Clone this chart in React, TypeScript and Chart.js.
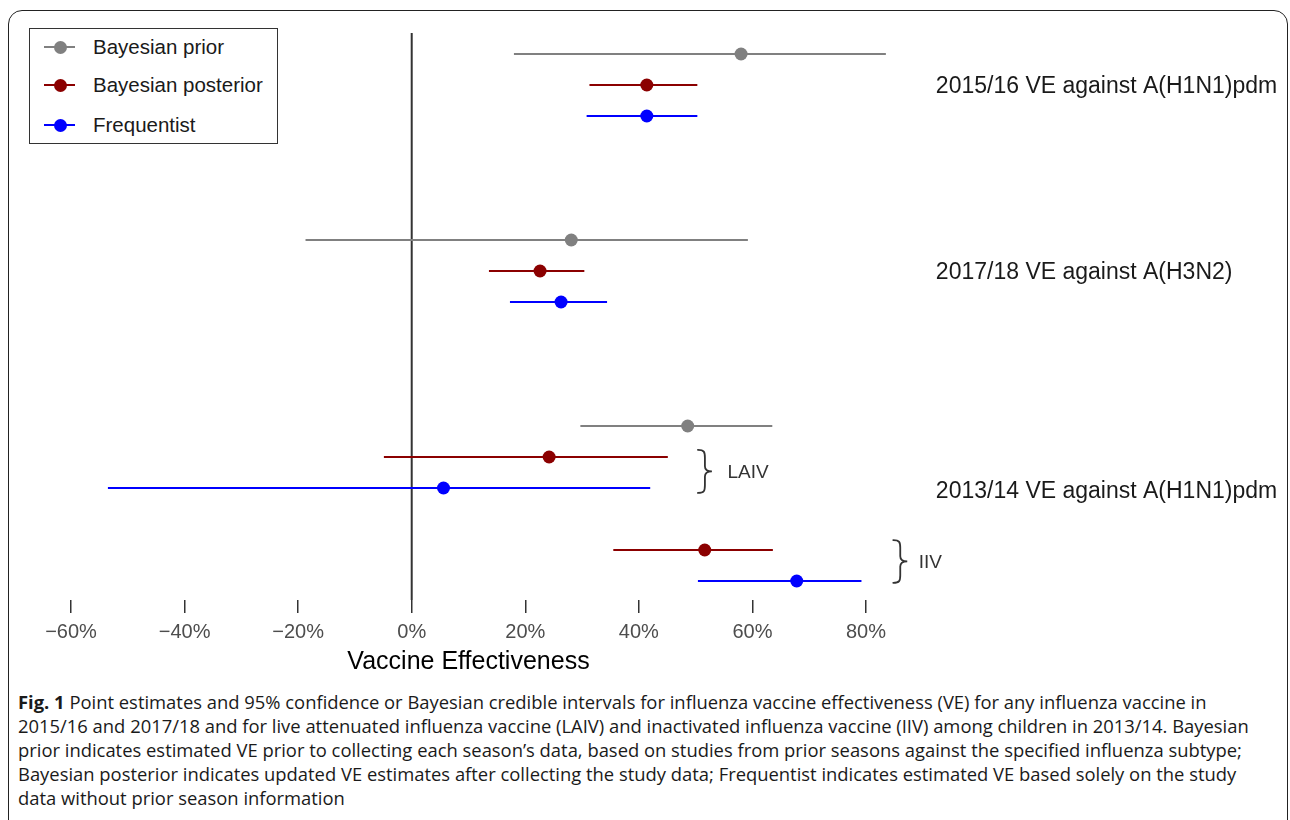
import React, { useEffect, useRef } from 'react';
import { Chart, registerables } from 'chart.js';

Chart.register(...registerables);

// ---- Data (VE in %) ----
const priorRows = [0, 6, 12];
const priorEst = [58.0, 28.1, 48.6];
const priorLow = [18.0, -18.7, 29.7];
const priorHigh = [83.5, 59.2, 63.5];

const posteriorRows = [1, 7, 13, 16];
const posteriorEst = [41.4, 22.6, 24.2, 51.6];
const posteriorLow = [31.3, 13.6, -4.9, 35.5];
const posteriorHigh = [50.3, 30.4, 45.1, 63.6];

const freqRows = [2, 8, 14, 17];
const freqEst = [41.4, 26.3, 5.6, 67.8];
const freqLow = [30.8, 17.3, -53.5, 50.4];
const freqHigh = [50.3, 34.4, 42.0, 79.2];

const seriesNames = ['Bayesian prior', 'Bayesian posterior', 'Frequentist'];

const xTickValues = [-60, -40, -20, 0, 20, 40, 60, 80];
const xTickLabels = ['\u221260%', '\u221240%', '\u221220%', '0%', '20%', '40%', '60%', '80%'];

const groupLabels = ['2015/16 VE against A(H1N1)pdm', '2017/18 VE against A(H3N2)', '2013/14 VE against A(H1N1)pdm'];
const groupLabelRows = [1.06, 7.06, 14.13];

const subLabels = ['LAIV', 'IIV'];
const subBraceFrom = [12.77, 15.68];
const subBraceTo = [14.16, 17.06];
const subLabelRows = [13.52, 16.42];

// ---- Layout / style (not data) ----
const Y_MIN = -0.677;
const Y_MAX = 17.613;
const GROUP_LABEL_X = 92.3;
const BRACE_X = [50.4, 84.8];
const SUB_LABEL_X = [55.6, 89.3];
const COLORS = ['#808080', '#8b0000', '#0000ff'];
const SANS = '"Liberation Sans", Arial, Helvetica, sans-serif';

function drawBrace(ctx: CanvasRenderingContext2D, x: number, y1: number, y2: number, w: number) {
  const ym = (y1 + y2) / 2;
  const h = y2 - y1;
  const xm = x + w * 0.5;
  ctx.beginPath();
  ctx.moveTo(x, y1);
  ctx.bezierCurveTo(x + w * 0.45, y1, xm, y1 + h * 0.05, xm, y1 + h * 0.18);
  ctx.lineTo(xm, ym - h * 0.12);
  ctx.bezierCurveTo(xm, ym - h * 0.03, x + w * 0.7, ym, x + w, ym);
  ctx.bezierCurveTo(x + w * 0.7, ym, xm, ym + h * 0.03, xm, ym + h * 0.12);
  ctx.lineTo(xm, y2 - h * 0.18);
  ctx.bezierCurveTo(xm, y2 - h * 0.05, x + w * 0.45, y2, x, y2);
  ctx.stroke();
}

const annotationPlugin = {
  id: 'groupAnnotations',
  afterDatasetsDraw(chart: any) {
    const { ctx, scales } = chart;
    const x = scales.x;
    const y = scales.y;
    ctx.save();
    ctx.font = `23px ${SANS}`;
    ctx.fillStyle = '#1a1a1a';
    ctx.textAlign = 'left';
    ctx.textBaseline = 'middle';
    groupLabels.forEach((t, i) => {
      ctx.fillText(t, x.getPixelForValue(GROUP_LABEL_X), y.getPixelForValue(groupLabelRows[i]));
    });
    ctx.strokeStyle = '#333333';
    ctx.lineWidth = 1.8;
    ctx.lineCap = 'round';
    subLabels.forEach((t, i) => {
      const bx = x.getPixelForValue(BRACE_X[i]);
      drawBrace(ctx, bx, y.getPixelForValue(subBraceFrom[i]), y.getPixelForValue(subBraceTo[i]), 14);
    });
    ctx.font = `19px ${SANS}`;
    ctx.fillStyle = '#333333';
    subLabels.forEach((t, i) => {
      ctx.fillText(t, x.getPixelForValue(SUB_LABEL_X[i]), y.getPixelForValue(subLabelRows[i]));
    });
    ctx.restore();
  },
};

function intervalDatasets(rows: number[], lo: number[], hi: number[], color: string) {
  return rows.map((r, i) => ({
    label: 'interval',
    data: [
      { x: lo[i], y: r },
      { x: hi[i], y: r },
    ],
    showLine: true,
    borderColor: color,
    borderWidth: 2.2,
    pointRadius: 0,
    clip: false,
    order: 1,
  }));
}

function pointDataset(name: string, rows: number[], est: number[], color: string) {
  return {
    label: name,
    data: rows.map((r, i) => ({ x: est[i], y: r })),
    showLine: false,
    pointRadius: 6.5,
    pointBackgroundColor: color,
    pointBorderWidth: 0,
    borderColor: color,
    clip: false,
    order: 0,
  };
}

export default function App() {
  const ref = useRef<HTMLCanvasElement>(null);

  useEffect(() => {
    if (!ref.current) return;
    const datasets: any[] = [
      {
        label: 'zero',
        data: [
          { x: 0, y: Y_MIN },
          { x: 0, y: Y_MAX },
        ],
        showLine: true,
        borderColor: '#333333',
        borderWidth: 2,
        pointRadius: 0,
        order: 2,
      },
      ...intervalDatasets(priorRows, priorLow, priorHigh, COLORS[0]),
      ...intervalDatasets(posteriorRows, posteriorLow, posteriorHigh, COLORS[1]),
      ...intervalDatasets(freqRows, freqLow, freqHigh, COLORS[2]),
      pointDataset(seriesNames[0], priorRows, priorEst, COLORS[0]),
      pointDataset(seriesNames[1], posteriorRows, posteriorEst, COLORS[1]),
      pointDataset(seriesNames[2], freqRows, freqEst, COLORS[2]),
    ];
    const chart = new Chart(ref.current, {
      type: 'scatter',
      data: { datasets },
      options: {
        animation: false,
        responsive: false,
        events: [],
        layout: { padding: { left: 71, right: 424, top: 33, bottom: 0 } },
        plugins: { legend: { display: false }, tooltip: { enabled: false } },
        scales: {
          x: {
            type: 'linear',
            min: -60,
            max: 80,
            afterBuildTicks: (s: any) => {
              s.ticks = xTickValues.map((v) => ({ value: v }));
            },
            afterFit: (s: any) => {
              s.height = 80;
            },
            ticks: {
              callback: (v: any) => {
                const idx = xTickValues.indexOf(Number(v));
                return idx >= 0 ? xTickLabels[idx] : '';
              },
              color: '#4d4d4d',
              font: { family: SANS, size: 20 },
              padding: 7,
              autoSkip: false,
              maxRotation: 0,
            },
            grid: {
              drawOnChartArea: false,
              drawTicks: true,
              tickLength: 13,
              color: '#333333',
              lineWidth: 1.5,
            },
            border: { display: false },
            title: {
              display: true,
              text: 'Vaccine Effectiveness',
              color: '#000000',
              font: { family: SANS, size: 25 },
              padding: { top: 0, bottom: 3 },
            },
          },
          y: {
            type: 'linear',
            reverse: true,
            min: Y_MIN,
            max: Y_MAX,
            display: false,
          },
        },
      } as any,
      plugins: [annotationPlugin],
    });
    return () => chart.destroy();
  }, []);

  const legendRowTops = [19, 57, 97];

  return (
    <div
      style={{
        position: 'fixed',
        left: 0,
        top: 0,
        width: 1290,
        height: 820,
        overflow: 'hidden',
        background: '#ffffff',
      }}
    >
      <div
        style={{
          position: 'absolute',
          left: 8,
          top: 10,
          width: 1280,
          height: 900,
          border: '1.5px solid #222',
          borderRadius: 14,
          boxSizing: 'border-box',
        }}
      />
      <canvas ref={ref} width={1290} height={680} style={{ position: 'absolute', left: 0, top: 0 }} />
      <div
        style={{
          position: 'absolute',
          left: 29,
          top: 28,
          width: 249,
          height: 116,
          border: '1px solid #333',
          boxSizing: 'border-box',
          background: '#fff',
        }}
      >
        {seriesNames.map((name, i) => (
          <div key={name} style={{ position: 'absolute', left: 0, top: legendRowTops[i] - 1, width: 240, height: 0 }}>
            <div
              style={{
                position: 'absolute',
                left: 14,
                top: -1,
                width: 31,
                height: 2.2,
                background: COLORS[i],
              }}
            />
            <div
              style={{
                position: 'absolute',
                left: 24,
                top: -6.5,
                width: 13,
                height: 13,
                borderRadius: '50%',
                background: COLORS[i],
              }}
            />
            <div
              style={{
                position: 'absolute',
                left: 63,
                top: -13,
                height: 26,
                lineHeight: '26px',
                fontFamily: SANS,
                fontSize: 20.5,
                color: '#1a1a1a',
                whiteSpace: 'nowrap',
              }}
            >
              {name}
            </div>
          </div>
        ))}
      </div>
      <div
        style={{
          position: 'absolute',
          left: 18,
          top: 690,
          fontFamily: '"Open Sans", sans-serif',
          fontSize: 18.4,
          lineHeight: '24px',
          color: '#1a1a1a',
          whiteSpace: 'nowrap',
        }}
      >
        <b>Fig. 1</b> Point estimates and 95% confidence or Bayesian credible intervals for influenza vaccine effectiveness (VE) for any influenza vaccine in
        <br />
        2015/16 and 2017/18 and for live attenuated influenza vaccine (LAIV) and inactivated influenza vaccine (IIV) among children in 2013/14. Bayesian
        <br />
        prior indicates estimated VE prior to collecting each season’s data, based on studies from prior seasons against the specified influenza subtype;
        <br />
        Bayesian posterior indicates updated VE estimates after collecting the study data; Frequentist indicates estimated VE based solely on the study
        <br />
        data without prior season information
      </div>
    </div>
  );
}
